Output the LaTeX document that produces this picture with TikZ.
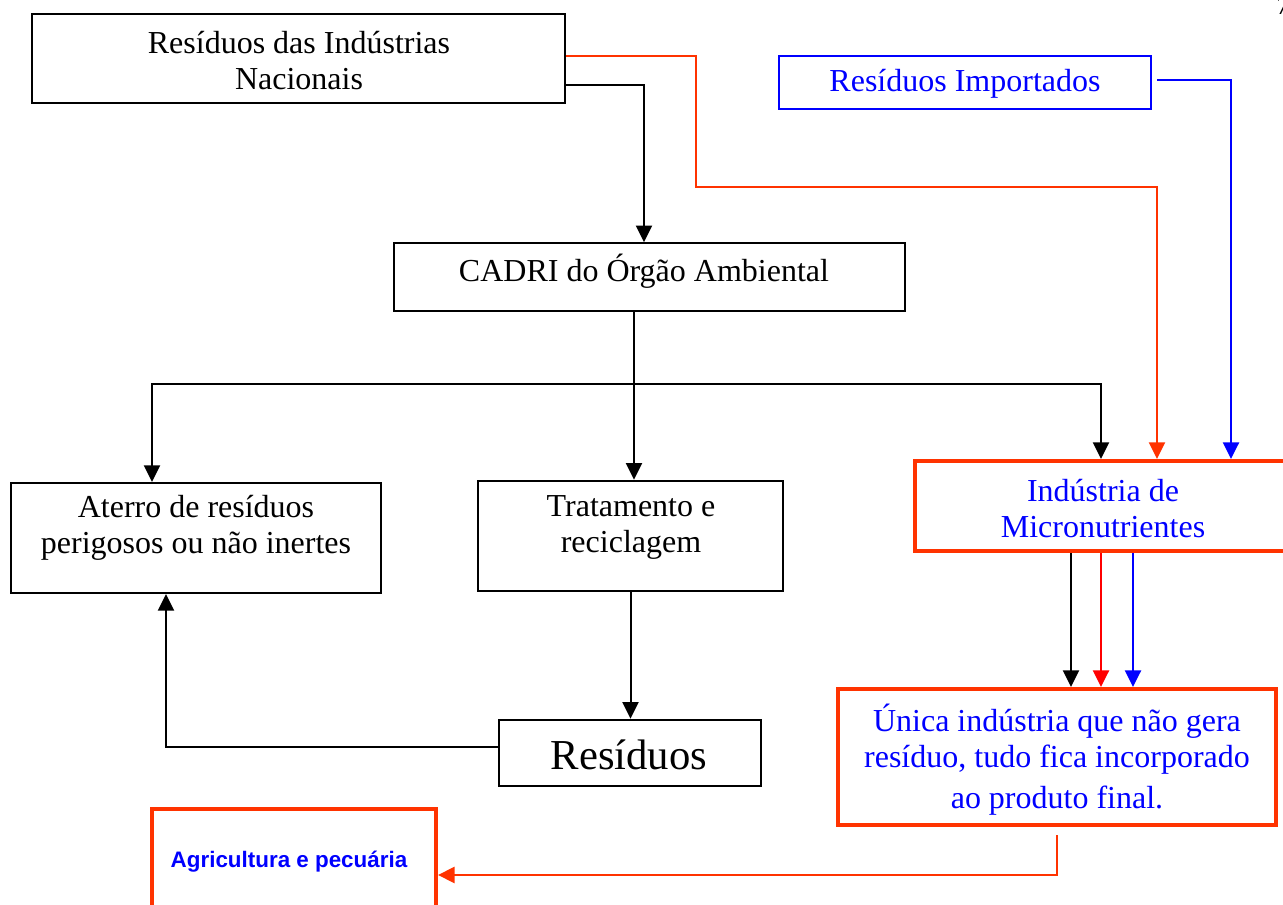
\documentclass[tikz,border=0pt]{standalone}
\usepackage{fontspec}
\setmainfont{Liberation Serif}
\newfontfamily\arialfont{Liberation Sans}
\usetikzlibrary{arrows.meta,fit}
\definecolor{orl}{RGB}{255,51,0}
\definecolor{pureblue}{RGB}{0,0,255}
\definecolor{purered}{RGB}{255,0,0}
\begin{document}
\begin{tikzpicture}[x=0.75pt,y=-0.75pt,
  box/.style={draw, rectangle, inner sep=0pt},
  txt/.style={align=center, inner sep=0pt, font=\fontsize{24}{27}\selectfont},
  tip/.style={-{Triangle[length=12.5pt,width=12pt]}},
  blk/.style={tip, draw=black, line width=1.5pt},
  redl/.style={tip, draw=orl, line width=1.5pt},
  bluel/.style={tip, draw=pureblue, line width=1.8pt}]
\useasboundingbox (0,0) rectangle (1283,905);

% boxes
\node[box, line width=2.2pt, fit={(32,14) (565,103)}] (nac) {};
\node[box, draw=pureblue, line width=2.2pt, fit={(779,56) (1151,109)}] (imp) {};
\node[box, line width=1.2pt, fit={(394,243) (905,311)}] (cadri) {};
\node[box, line width=1.6pt, fit={(11,483) (381,593)}] (ater) {};
\node[box, line width=1.9pt, fit={(478,481) (783,591)}] (trat) {};
\node[box, line width=1.9pt, fit={(499,720) (761,786)}] (res) {};
\node[box, draw=orl, line width=3pt, fit={(915,461) (1295,551)}] (micro) {};
\node[box, draw=orl, line width=3pt, fit={(838,689) (1276,825)}] (unica) {};
\node[box, draw=orl, line width=3pt, fit={(152,809) (436,930)}] (agri) {};

% texts
\node[txt] (nac-t) at (299,61) {Resíduos das Indústrias\\Nacionais};
\node[txt, text=pureblue] (imp-t) at (965,84) {Resíduos Importados};
\node[txt] (cadri-t) at (644,271) {CADRI do Órgão Ambiental};
\node[txt] (ater-t) at (196,528) {Aterro de resíduos\\perigosos ou não inertes};
\node[txt] (trat-t) at (631,527) {Tratamento e\\reciclagem};
\node[txt, font=\fontsize{32}{36}\selectfont] (res-t) at (629,755) {Resíduos};
\node[txt, text=pureblue] (micro-t) at (1103,509) {Indústria de\\Micronutrientes};
\node[txt, text=pureblue] (unica-t) at (1057,760) {Única indústria que não gera\\resíduo, tudo fica incorporado\\[3.75pt]ao produto final.};
\node[inner sep=0pt, text=pureblue, font=\arialfont\bfseries\fontsize{16.8}{20}\selectfont] (agri-t) at (289,862) {Agricultura e pecuária};
\node[anchor=north west, inner sep=0pt, font=\fontsize{20}{20}\selectfont] (pg) at (1276,-3) {7};

% bend coordinates
\coordinate (r1) at (696,56);
\coordinate (r2) at (1157,187);
\coordinate (b1) at (644,85);
\coordinate (u1) at (1231,80);
\coordinate (c1) at (634,384);
\coordinate (c2) at (152,384);
\coordinate (c3) at (1101,384);
\coordinate (a1) at (166,747);
\coordinate (m1) at (1071,600);
\coordinate (m2) at (1101,600);
\coordinate (m3) at (1133,600);
\coordinate (g1) at (1057,875);

% connectors
\draw[redl] (nac.east |- r1) -- (r1) |- (r2) -- (r2 |- micro.north);
\draw[blk] (nac.east |- b1) -- (b1) -- (b1 |- cadri.north);
\draw[bluel, shorten <=3.5pt] (imp.east |- u1) -- (u1) -- (u1 |- micro.north);
\draw[blk] (cadri.south -| c1) -- (c1 |- trat.north);
\draw[blk] (c1) -- (c2) -- (c2 |- ater.north);
\draw[blk] (c1) -- (c3) -- (c3 |- micro.north);
\draw[blk] (trat.south) -- (trat.south |- res.north);
\draw[blk] (res.west |- a1) -- (a1) -- (a1 |- ater.south);
\draw[blk] (m1 |- micro.south) -- (m1 |- unica.north);
\draw[tip, draw=purered, line width=1.8pt] (m2 |- micro.south) -- (m2 |- unica.north);
\draw[bluel] (m3 |- micro.south) -- (m3 |- unica.north);
\draw[redl, line width=2.2pt, shorten <=6pt] (unica.south -| g1) -- (g1) -- (g1 -| agri.east);
\end{tikzpicture}
\end{document}
